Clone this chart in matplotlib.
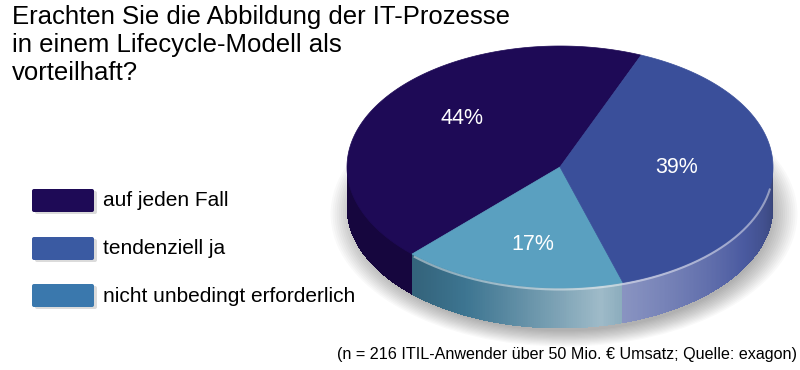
import numpy as np
import matplotlib
matplotlib.use("Agg")
import matplotlib.pyplot as plt
from matplotlib.patches import Polygon, Ellipse, FancyBboxPatch
from matplotlib.collections import PolyCollection
import matplotlib.colors as mcolors

plt.rcParams['font.family'] = ['Liberation Sans', 'DejaVu Sans']

# ---- data ----
title = "Erachten Sie die Abbildung der IT-Prozesse\nin einem Lifecycle-Modell als\nvorteilhaft?"
categories = ["auf jeden Fall", "tendenziell ja", "nicht unbedingt erforderlich"]
values = [44, 39, 17]
labels = ["44%", "39%", "17%"]
top_colors = ["#1e0a56", "#3a4f9a", "#5aa0c0"]
legend_colors = ["#1e0a56", "#3a5aa2", "#3a78ad"]
footnote = "(n = 216 ITIL-Anwender über 50 Mio. € Umsatz; Quelle: exagon)"
# drawing order around the pie (counter-clockwise from start angle)
pie_order = [0, 2, 1]
start_angle = 67.6

# ---- geometry (pixel space) ----
W, H = 800, 370
cx, cy = 560, 167
a, b = 213, 121
thick = 40

fig = plt.figure(figsize=(8, 3.7), dpi=100)
ax = fig.add_axes([0, 0, 1, 1])
ax.set_xlim(0, W)
ax.set_ylim(H, 0)
ax.axis('off')

def pt(theta_deg, rx=1.0, ry=None, dy=0.0):
    if ry is None:
        ry = rx
    t = np.radians(theta_deg)
    return cx + a * rx * np.cos(t), cy - b * ry * np.sin(t) + dy

# soft shadow under pie
for i in range(14):
    s = 1 + i * 0.01
    e = Ellipse((cx + 4, cy + thick + 7), 2 * a * 0.97 * s, 2 * b * 0.97 * s,
                facecolor='black', alpha=0.022, edgecolor='none', zorder=0)
    ax.add_patch(e)

total = float(sum(values))
angles = {}
ang = start_angle
for idx in pie_order:
    span = 360.0 * values[idx] / total
    angles[idx] = (ang, ang + span)
    ang += span

def shade(color, f):
    r, g, bb = mcolors.to_rgb(color)
    if f >= 1:
        k = min(f - 1, 1)
        return (r + (1 - r) * k, g + (1 - g) * k, bb + (1 - bb) * k)
    return (r * f, g * f, bb * f)

# side walls (only the front half, angles 180..360)
side_base = {0: "#16063e", 2: "#3d7591", 1: "#4a5aa0"}
quads, qcolors = [], []
for idx in pie_order:
    t0, t1 = angles[idx]
    for off in (0, 360, -360):
        s0, s1 = max(t0 + off, 180), min(t1 + off, 360)
        if s1 <= s0:
            continue
        n = max(int((s1 - s0) / 0.5), 2)
        th = np.linspace(s0, s1, n + 1)
        for k in range(n):
            ta, tb = th[k], th[k + 1]
            tm = 0.5 * (ta + tb)
            rel = (tm - s0) / (s1 - s0)
            if idx == 2:
                f = 0.85 + 0.75 * rel ** 1.3
                if rel > 0.9:
                    f -= (rel - 0.9) * 2.0
            elif idx == 1:
                f = 1.35 - 0.6 * rel
            else:
                f = 1.0
            c = shade(side_base[idx], f)
            x1, y1 = pt(ta)
            x2, y2 = pt(min(tb + 0.25, s1))
            quads.append([(x1, y1), (x2, y2), (x2, y2 + thick), (x1, y1 + thick)])
            qcolors.append(c)
ax.add_collection(PolyCollection(quads, facecolors=qcolors, edgecolors='none',
                                 antialiased=False, zorder=2))

# top wedges
for idx in pie_order:
    t0, t1 = angles[idx]
    th = np.linspace(t0, t1, 200)
    xs = cx + a * np.cos(np.radians(th))
    ys = cy - b * np.sin(np.radians(th))
    verts = [(cx, cy)] + list(zip(xs, ys))
    ax.add_patch(Polygon(verts, closed=True, facecolor=top_colors[idx],
                         edgecolor=top_colors[idx], lw=0.5, zorder=3))

# light rim highlight on front edge (17% and 39% slices)
th = np.linspace(angles[2][0] + 1, 350, 300)
xs = cx + a * np.cos(np.radians(th))
ys = cy - b * np.sin(np.radians(th))
ax.plot(xs, ys + 1.5, color='white', alpha=0.45, lw=1.5, zorder=4)

# percentage labels
for idx in pie_order:
    t0, t1 = angles[idx]
    tm = 0.5 * (t0 + t1)
    x, y = pt(tm, 0.55, 0.68, dy=-3)
    ax.text(x, y, labels[idx], color='white', fontsize=15.5, ha='center', va='center', zorder=5)

# title
ax.text(12, 5, title, fontsize=18.5, ha='left', va='top', color='black', linespacing=1.2)

# legend
leg_y = [201, 249, 296]
for i, (cat, col) in enumerate(zip(categories, legend_colors)):
    ax.add_patch(FancyBboxPatch((35, leg_y[i] - 10), 62, 23, boxstyle="round,pad=0,rounding_size=2",
                                facecolor='#999999', edgecolor='none', alpha=0.35, zorder=1))
    ax.add_patch(FancyBboxPatch((32, leg_y[i] - 12), 62, 23, boxstyle="round,pad=0,rounding_size=2",
                                facecolor=col, edgecolor='none', zorder=2))
    ax.text(103, leg_y[i], cat, fontsize=15, ha='left', va='center', color='black')

# footnote
ax.text(797, 355, footnote, fontsize=11.6, ha='right', va='center', color='black')

fig.savefig("out.png", dpi=100, facecolor='white')
